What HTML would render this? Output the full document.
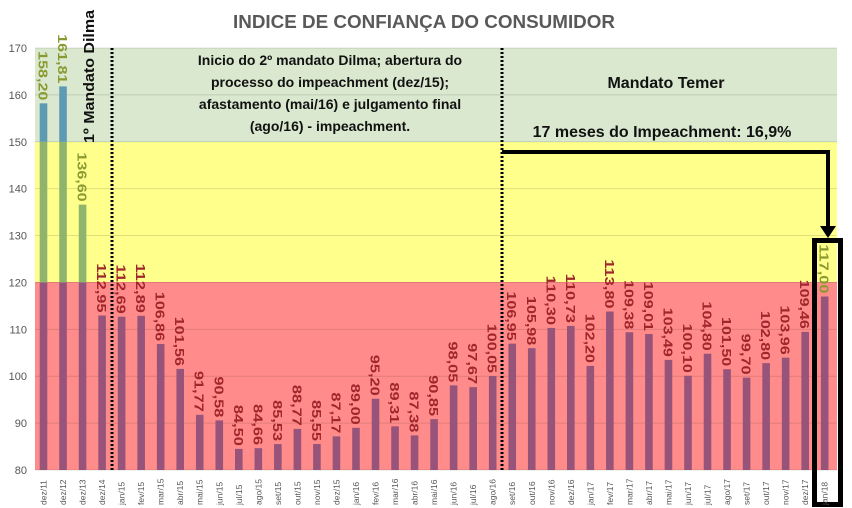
<!DOCTYPE html>
<html><head><meta charset="utf-8"><style>
html,body{margin:0;padding:0;background:#fff;}
svg{display:block;font-family:"Liberation Sans",sans-serif;}
</style></head><body>
<svg id="s" width="852" height="508" xmlns="http://www.w3.org/2000/svg">
<rect x="0" y="0" width="852" height="508" fill="#fff"/>
<rect x="35" y="48" width="802" height="94" fill="#d9e8cf"/>
<rect x="35" y="142" width="802" height="140" fill="#ffff8c"/>
<rect x="35" y="282" width="802" height="188" fill="#ff8c8a"/>
<g id="grid"></g>
<g id="bars"></g>
<line x1="112" y1="48" x2="112" y2="470" stroke="#000" stroke-width="3" stroke-dasharray="2,2"/>
<line x1="502" y1="48" x2="502" y2="470" stroke="#000" stroke-width="3" stroke-dasharray="2,2"/>
<text x="424" y="28" text-anchor="middle" font-size="18" font-weight="bold" fill="#595959" textLength="382" lengthAdjust="spacingAndGlyphs">INDICE DE CONFIANÇA DO CONSUMIDOR</text>
<g font-size="14" font-weight="bold" fill="#111" text-anchor="middle">
<text x="330" y="65">Inicio do 2º mandato Dilma; abertura do</text>
<text x="330" y="87">processo do impeachment (dez/15);</text>
<text x="330" y="109">afastamento (mai/16) e julgamento final</text>
<text x="330" y="131">(ago/16) - impeachment.</text>
<text x="666" y="88" font-size="16">Mandato Temer</text>
<text x="662" y="137" font-size="16">17 meses do Impeachment: 16,9%</text>
</g>
<text transform="translate(94,143) rotate(-90)" font-size="15" font-weight="bold" fill="#111" textLength="133" lengthAdjust="spacingAndGlyphs">1º Mandato Dilma</text>
<polyline points="502,152 828,152 828,228" fill="none" stroke="#000" stroke-width="4"/>
<polygon points="820,226 836,226 828,238" fill="#000"/>
<rect x="814.5" y="240.5" width="26" height="264" fill="none" stroke="#000" stroke-width="5"/>
<g id="labels"></g>
</svg>
<script>
(function(){
var v=[158.20,161.81,136.60,112.95,112.69,112.89,106.86,101.56,91.77,90.58,84.50,84.66,85.53,88.77,85.55,87.17,89.00,95.20,89.31,87.38,90.85,98.05,97.67,100.05,106.95,105.98,110.30,110.73,102.20,113.80,109.38,109.01,103.49,100.10,104.80,101.50,99.70,102.80,103.96,109.46,117.00];
var m=["dez/11","dez/12","dez/13","dez/14"];
var mm=["jan","fev","mar","abr","mai","jun","jul","ago","set","out","nov","dez"];
for(var y=15;y<=17;y++)for(var i=0;i<12;i++)m.push(mm[i]+"/"+y);m.push("jan/18");
function Y(val){return 48+(170-val)*4.689;}
var g="",b="",l="";
for(var t=80;t<=170;t+=10){var yy=Y(t);g+='<line x1="35" x2="837" y1="'+yy+'" y2="'+yy+'" stroke="rgba(0,0,0,0.12)" stroke-width="1"/>';g+='<text x="27" y="'+(yy+4)+'" text-anchor="end" font-size="11" fill="#555">'+t+'</text>';}
for(var i=0;i<v.length;i++){
 var cx=43.5+i*19.53,x=cx-3.8,w=7.6,tp=Y(v[i]);
 var segs=[[80,120,"#975379"],[120,150,"#8fb56c"],[150,170,"#5d9bb3"]];
 segs.forEach(function(s){var hi=Math.min(v[i],s[1]);if(hi>s[0]){b+='<rect x="'+x+'" y="'+Y(hi)+'" width="'+w+'" height="'+(Y(s[0])-Y(hi))+'" fill="'+s[2]+'"/>';}});
 var s=v[i].toFixed(2).replace(".",",");
 var col=v[i]>=115?"#8a9a30":"#a0262c";
 l+='<text transform="translate('+(cx-5)+','+(tp-3)+') rotate(90)" text-anchor="end" font-size="13" font-weight="bold" fill="'+col+'" textLength="'+(s.length*8.2)+'" lengthAdjust="spacingAndGlyphs">'+s+'</text>';
 l+='<text transform="translate('+(cx+3)+',505) rotate(-90)" font-size="8.5" fill="#555">'+m[i]+'</text>';
}
document.getElementById("grid").innerHTML=g;
document.getElementById("bars").innerHTML=b;
document.getElementById("labels").innerHTML=l;
})();
</script>
</body></html>
